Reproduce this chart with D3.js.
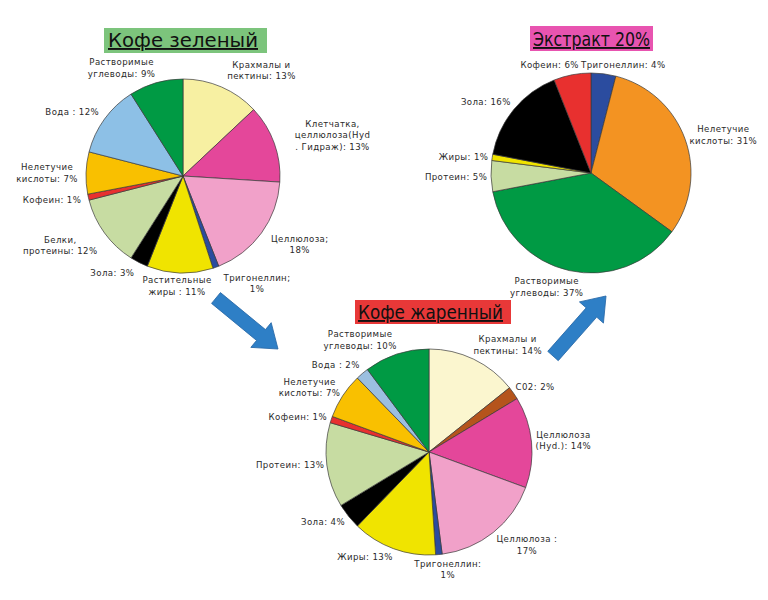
<!DOCTYPE html>
<html><head><meta charset="utf-8">
<script src="https://cdn.jsdelivr.net/npm/d3@7"></script>
<style>body{margin:0;background:#fff}svg{display:block}</style>
</head><body>
<svg id="chart" width="768" height="600"></svg>
<script>
// ---------- DATA ----------
const greenTitle = "Кофе зеленый";
const greenLabels = ["Крахмалы и\nпектины: 13%", "Клетчатка,\nцеллюлоза(Hyd\n. Гидраж): 13%", "Целлюлоза;\n18%", "Тригонеллин;\n1%", "Растительные\nжиры : 11%", "Зола: 3%", "Белки,\nпротеины: 12%", "Кофеин: 1%", "Нелетучие\nкислоты: 7%", "Вода : 12%", "Растворимые\nуглеводы: 9%"];
const greenValues = [13, 13, 18, 1, 11, 3, 12, 1, 7, 12, 9];
const greenColors = ["#f7f0a2", "#e4479a", "#f1a1c9", "#2b4c9f", "#f0e400", "#000000", "#c7dca2", "#e8302f", "#f9c000", "#8dc0e6", "#009a44"];

const roastTitle = "Кофе жаренный";
const roastLabels = ["Крахмалы и\nпектины: 14%", "C02: 2%", "Целлюлоза\n(Hyd.): 14%", "Целлюлоза :\n17%", "Тригонеллин:\n1%", "Жиры: 13%", "Зола: 4%", "Протеин: 13%", "Кофеин: 1%", "Нелетучие\nкислоты: 7%", "Вода : 2%", "Растворимые\nуглеводы: 10%"];
const roastValues = [14, 2, 14, 17, 1, 13, 4, 13, 1, 7, 2, 10];
const roastColors = ["#fbf6cf", "#b5541c", "#e4479a", "#f1a1c9", "#2b4c9f", "#f0e400", "#000000", "#c7dca2", "#e8302f", "#f9c000", "#9bbfe0", "#009a44"];

const extractTitle = "Экстракт 20%";
const extractLabels = ["Тригонеллин: 4%", "Нелетучие\nкислоты: 31%", "Растворимые\nуглеводы: 37%", "Протеин: 5%", "Жиры: 1%", "Зола: 16%", "Кофеин: 6%"];
const extractValues = [4, 31, 37, 5, 1, 16, 6];
const extractColors = ["#2b4c9f", "#f39322", "#009a44", "#c7dca2", "#f0e400", "#000000", "#e8302f"];

// ---------- LAYOUT ----------
const layout = {
  green:   {cx: 183, cy: 176, r: 97,  labelR: 127, title: {x: 104, y: 28, w: 163, h: 25, fill: "#7cc47c", tx: 108, tw: 150, base: 47},
            nudge: [[28,11],[30,2],[14,-6],[31,-12],[-2,-17],[-13,-16],[-20,-5],[-7,-4],[-9,1],[-8,11],[-26,14]]},
  roast:   {cx: 429, cy: 452, r: 103, labelR: 133, title: {x: 355, y: 300, w: 156, h: 24, fill: "#e83838", tx: 358, tw: 145, base: 319},
            nudge: [[21,13],[-3,11],[2,1],[15,-11],[6,-15],[-18,-20],[-2,-13],[-7,-4],[-5,7],[-8,8],[-7,14],[-27,14]]},
  extract: {cx: 591, cy: 173, r: 100, labelR: 130, title: {x: 530, y: 26, w: 123, h: 25, fill: "#e854b0", tx: 533, tw: 117, base: 46},
            nudge: [[16,21],[10,6],[-16,-13],[-5,0],[1,4],[-5,12],[-17,20]]}
};

const svg = d3.select("#chart");
svg.append("rect").attr("width", 768).attr("height", 600).attr("fill", "#fff");

function drawPie(values, labels, colors, title, L) {
  const g = svg.append("g").attr("transform", `translate(${L.cx},${L.cy})`);
  const pie = d3.pie().sort(null).value(d => d);
  const arcs = pie(values);
  const arc = d3.arc().innerRadius(0).outerRadius(L.r);
  const labelArc = d3.arc().innerRadius(L.labelR).outerRadius(L.labelR);
  g.selectAll("path").data(arcs).join("path")
    .attr("d", arc)
    .attr("fill", (d, i) => colors[i])
    .attr("stroke", "#3a3a3a").attr("stroke-width", 0.7);
  const lh = 11.5;
  arcs.forEach((d, i) => {
    const [x, y] = labelArc.centroid(d);
    const [dx, dy] = L.nudge[i];
    const lines = labels[i].split("\n");
    const t = g.append("text")
      .attr("text-anchor", "middle")
      .attr("font-family", "DejaVu Sans, sans-serif")
      .attr("font-size", 8.6)
      .attr("letter-spacing", 0.4)
      .attr("fill", "#2a2a2a");
    lines.forEach((ln, k) => {
      t.append("tspan").attr("x", x + dx)
        .attr("y", y + dy + (k - (lines.length - 1) / 2) * lh)
        .attr("dy", "0.35em").text(ln);
    });
  });
  const T = L.title;
  svg.append("rect").attr("x", T.x).attr("y", T.y).attr("width", T.w).attr("height", T.h).attr("fill", T.fill);
  svg.append("text").attr("x", T.tx).attr("y", T.base)
    .attr("font-family", "DejaVu Sans, sans-serif").attr("font-size", 19)
    .attr("textLength", T.tw).attr("lengthAdjust", "spacingAndGlyphs")
    .attr("fill", "#111").attr("text-decoration", "underline")
    .text(title);
}

function arrow(x0, y0, x1, y1) {
  const len = Math.hypot(x1 - x0, y1 - y0);
  const ang = Math.atan2(y1 - y0, x1 - x0) * 180 / Math.PI;
  const sw = 7, hw = 16, hl = 22;
  const pts = [[0, -sw], [len - hl, -sw], [len - hl, -hw], [len, 0], [len - hl, hw], [len - hl, sw], [0, sw]];
  svg.append("polygon")
    .attr("points", pts.map(p => p.join(",")).join(" "))
    .attr("transform", `translate(${x0},${y0}) rotate(${ang})`)
    .attr("fill", "#2e7fc6").attr("stroke", "#2a6aa8").attr("stroke-width", 0.8);
}

drawPie(greenValues, greenLabels, greenColors, greenTitle, layout.green);
drawPie(roastValues, roastLabels, roastColors, roastTitle, layout.roast);
drawPie(extractValues, extractLabels, extractColors, extractTitle, layout.extract);
arrow(216, 298, 278, 349);
arrow(553, 356, 606, 296);
</script>
</body></html>
